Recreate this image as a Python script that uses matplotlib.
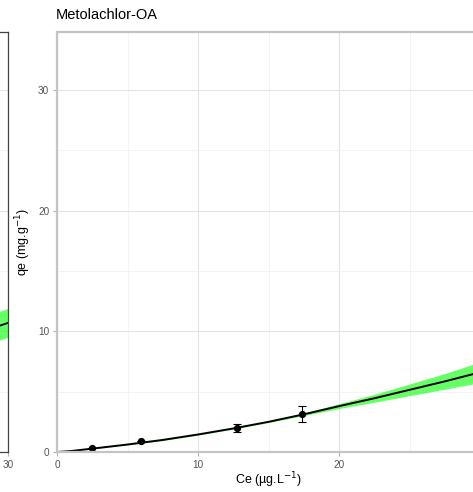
import matplotlib
matplotlib.use("Agg")
import matplotlib.pyplot as plt
import numpy as np

plt.rcParams['font.family'] = ['Liberation Sans', 'DejaVu Sans']

# Observed points (Metolachlor-OA)
ce_obs = [2.46, 5.94, 12.74, 17.4]
qe_obs = [0.33, 0.92, 2.0, 3.12]
qe_err = [0.0, 0.0, 0.35, 0.66]

# Fitted curve and confidence band
ce_fit = [0, 1, 2.5, 5, 7.5, 10, 12.5, 15, 17.5, 20, 22.5, 25, 27.5, 30]
qe_fit = [0, 0.08, 0.28, 0.62, 1.0, 1.45, 1.95, 2.5, 3.12, 3.8, 4.45, 5.15, 5.85, 6.6]
band_lo = [0, 0.07, 0.25, 0.58, 0.95, 1.4, 1.9, 2.44, 3.02, 3.6, 4.12, 4.67, 5.2, 5.75]
band_hi = [0, 0.09, 0.31, 0.66, 1.05, 1.5, 2.0, 2.56, 3.22, 4.0, 4.78, 5.63, 6.5, 7.45]

# Neighbouring (cropped) panel fragment
left_ce = [29.0, 30.0]
left_qe = [10.3, 10.7]
left_lo = [9.1, 9.5]
left_hi = [11.5, 11.9]

x_ticks = [0, 10, 20, 30]
y_ticks = [0, 10, 20, 30]
x_minor = [5, 15, 25]
y_minor = [5, 15, 25]

W, H = 473, 492
fig = plt.figure(figsize=(W / 100, H / 100), dpi=100)

ax_l, ax_r = 57, 480
ax_t, ax_b = 32, 452
ymax = 34.8

def style(ax, border_color, border_lw):
    ax.set_xlim(0, 30)
    ax.set_ylim(0, ymax)
    ax.set_xticks(x_ticks)
    ax.set_yticks(y_ticks)
    ax.set_xticks(x_minor, minor=True)
    ax.set_yticks(y_minor, minor=True)
    ax.grid(True, which='major', color='#e3e3e3', lw=0.8)
    ax.grid(True, which='minor', color='#f0f0f0', lw=0.5)
    ax.set_axisbelow(True)
    ax.tick_params(which='major', length=3, width=0.8, color='#b3b3b3',
                   labelcolor='#555555', labelsize=7.2, pad=2.5)
    ax.tick_params(which='minor', length=0)
    for s in ax.spines.values():
        s.set_color(border_color)
        s.set_linewidth(border_lw)

# Left (cropped) panel: only its right edge is visible
axL = fig.add_axes([(8 - (ax_r - ax_l)) / W, (H - ax_b) / H, (ax_r - ax_l) / W, (ax_b - ax_t) / H])
style(axL, '#444444', 0.9)
axL.set_xticklabels(['' if t != 30 else str(t) for t in x_ticks])
axL.tick_params(axis='y', labelleft=False)
axL.fill_between(left_ce, left_lo, left_hi, color='#00ff00', alpha=0.6, lw=0)
axL.plot(left_ce, left_qe, color='black', lw=1.3)

# Main panel (its right edge lies just beyond the crop)
ax = fig.add_axes([ax_l / W, (H - ax_b) / H, (ax_r - ax_l) / W, (ax_b - ax_t) / H])
style(ax, '#c4c4c4', 1.6)
ax.set_xticklabels(['' if t == 30 else str(t) for t in x_ticks])
ax.fill_between(ce_fit, band_lo, band_hi, color='#00ff00', alpha=0.6, lw=0)
ax.plot(ce_fit, qe_fit, color='black', lw=1.4)
ax.errorbar(ce_obs, qe_obs, yerr=qe_err, fmt='o', color='black', ms=4.2,
            capsize=3, elinewidth=0.8, capthick=0.8)

ax.set_xlabel('Ce (µg.L$^{-1}$)', fontsize=9, color='black', va='center')
ax.xaxis.set_label_coords(0.5, -(480 - ax_b) / (ax_b - ax_t))
ax.set_ylabel('qe (mg.g$^{-1}$)', fontsize=9, color='black', va='center')
ax.yaxis.set_label_coords((23 - ax_l) / (ax_r - ax_l), 0.5)

fig.text(ax_l / W - 0.002, 1 - 15 / H, 'Metolachlor-OA', fontsize=10.5,
         ha='left', va='center', color='black')

fig.savefig('out.png', dpi=100)
